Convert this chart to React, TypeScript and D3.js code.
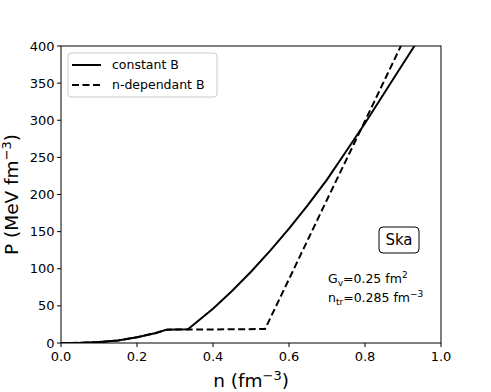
import React from "react";
import * as d3 from "d3";

// density grid (fm^-3) and pressures (MeV fm^-3)
const nConst = [0, 0.05, 0.1, 0.15, 0.2, 0.25, 0.278, 0.3, 0.334, 0.4, 0.45, 0.5, 0.55, 0.6, 0.65, 0.7, 0.75, 0.8, 0.85, 0.9, 0.95];
const pConst = [0, 0.2, 1.2, 3.5, 7.7, 13.5, 18, 18.3, 18.5, 46, 70, 96, 124, 154, 186, 220, 258, 296, 336, 376, 416];

const nDep = [0, 0.05, 0.1, 0.15, 0.2, 0.25, 0.278, 0.4, 0.537, 0.6, 0.7, 0.8, 0.9, 0.95];
const pDep = [0, 0.2, 1.2, 3.5, 7.7, 13.5, 18, 18.3, 18.8, 86, 193, 299, 406, 459];

const xTicks = [0, 0.2, 0.4, 0.6, 0.8, 1.0];
const yTicks = [0, 50, 100, 150, 200, 250, 300, 350, 400];

const font = "DejaVu Sans, sans-serif";

export default function App() {
  const width = 491;
  const height = 392;
  const left = 61;
  const right = 441;
  const top = 46;
  const bottom = 343;

  const x = d3.scaleLinear().domain([0, 1]).range([left, right]);
  const y = d3.scaleLinear().domain([0, 400]).range([bottom, top]);

  const line = d3
    .line<[number, number]>()
    .x((d) => x(d[0]))
    .y((d) => y(d[1]));

  const constData = nConst.map((n, i) => [n, pConst[i]] as [number, number]);
  const depData = nDep.map((n, i) => [n, pDep[i]] as [number, number]);

  return (
    <svg
      width={width}
      height={height}
      style={{ position: "absolute", left: 0, top: 0, background: "#fff" }}
      fontFamily={font}
    >
      <defs>
        <clipPath id="plot">
          <rect x={left} y={top} width={right - left} height={bottom - top} />
        </clipPath>
      </defs>

      <g clipPath="url(#plot)" fill="none" stroke="#000" strokeWidth={2}>
        <path d={line(constData) ?? ""} />
        <path d={line(depData) ?? ""} strokeDasharray="7,3.5" />
      </g>

      <rect
        x={left}
        y={top}
        width={right - left}
        height={bottom - top}
        fill="none"
        stroke="#000"
        strokeWidth={1}
      />

      {yTicks.map((t) => (
        <g key={"y" + t}>
          <line x1={left - 4} x2={left} y1={y(t)} y2={y(t)} stroke="#000" />
          <text x={left - 6.5} y={y(t)} dy="0.35em" textAnchor="end" fontSize={13}>
            {t}
          </text>
        </g>
      ))}

      {xTicks.map((t) => (
        <g key={"x" + t}>
          <line x1={x(t)} x2={x(t)} y1={bottom} y2={bottom + 4} stroke="#000" />
          <text x={x(t)} y={bottom + 18} textAnchor="middle" fontSize={13}>
            {t.toFixed(1)}
          </text>
        </g>
      ))}

      <text x={(left + right) / 2} y={387} textAnchor="middle" fontSize={18.5}>
        n (fm
        <tspan dy={-7.5} fontSize={13}>−3</tspan>
        <tspan dy={7.5}>)</tspan>
      </text>

      <text
        transform={`translate(18, ${(top + bottom) / 2}) rotate(-90)`}
        textAnchor="middle"
        fontSize={18.5}
      >
        P (MeV fm
        <tspan dy={-7.5} fontSize={13}>−3</tspan>
        <tspan dy={7.5}>)</tspan>
      </text>

      <g>
        <rect x={68} y={53} width={149} height={44} rx={3} fill="#fff" fillOpacity={0.8} stroke="#ccc" />
        <line x1={72} x2={101} y1={65} y2={65} stroke="#000" strokeWidth={2} />
        <line x1={72} x2={101} y1={85} y2={85} stroke="#000" strokeWidth={2} strokeDasharray="7,3.5" />
        <text x={112} y={65} dy="0.35em" fontSize={12.5}>constant B</text>
        <text x={112} y={85} dy="0.35em" fontSize={12.5}>n-dependant B</text>
      </g>

      <rect x={379} y={227} width={40} height={26} rx={4} fill="#fff" stroke="#000" />
      <text x={399} y={240} dy="0.35em" textAnchor="middle" fontSize={15}>Ska</text>

      <text x={328} y={283} fontSize={12.5}>
        G
        <tspan dy={3} fontSize={9}>v</tspan>
        <tspan dy={-3}>=0.25 fm</tspan>
        <tspan dy={-5} fontSize={9}>2</tspan>
      </text>
      <text x={328} y={302} fontSize={12.5}>
        n
        <tspan dy={3} fontSize={9}>tr</tspan>
        <tspan dy={-3}>=0.285 fm</tspan>
        <tspan dy={-5} fontSize={9}>−3</tspan>
      </text>
    </svg>
  );
}
